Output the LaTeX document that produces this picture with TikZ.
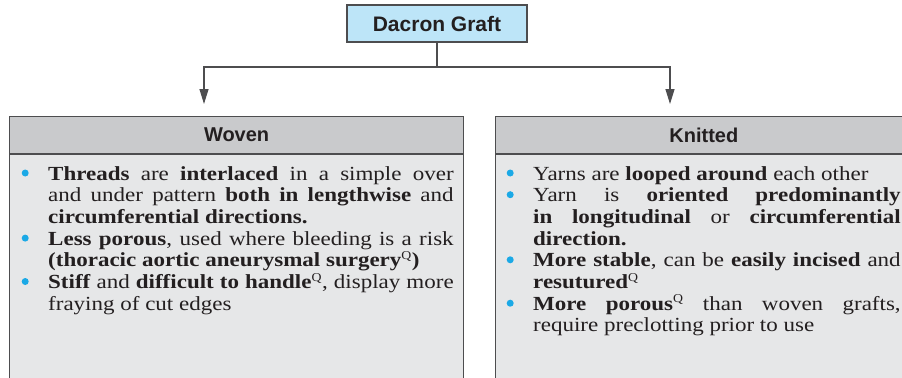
\documentclass[tikz,border=0pt]{standalone}
\usepackage{fontspec}
\setmainfont{Liberation Serif}[FakeStretch=1.15]
\newfontfamily\headfont{Liberation Sans}
\usetikzlibrary{positioning,arrows.meta}
\definecolor{graftblue}{HTML}{BDE5F8}
\definecolor{headgray}{HTML}{C9CACC}
\definecolor{bodygray}{HTML}{E6E7E8}
\definecolor{edgegray}{HTML}{4D4D4F}
\definecolor{inkblack}{HTML}{231F20}
\definecolor{bulletblue}{HTML}{1BA9E6}
\tikzstyle{frame}=[draw=edgegray,line width=1.2bp]
\tikzstyle{flow}=[-{Triangle[width=9bp,length=15bp]},line width=1.2bp,draw=edgegray]
\tikzstyle{rootbox}=[frame,fill=graftblue,minimum width=180bp,minimum height=37bp,inner sep=0,
  text=inkblack,font=\headfont\bfseries\fontsize{21bp}{25bp}\selectfont]
\tikzstyle{headbox}=[frame,fill=headgray,minimum height=37bp,inner sep=0,anchor=north west,
  text=inkblack,font=\headfont\bfseries\fontsize{20bp}{24bp}\selectfont]
\tikzstyle{bodybox}=[frame,fill=bodygray,minimum height=260bp,inner sep=0]
\tikzstyle{listtext}=[anchor=base west,inner sep=0,align=justify,text=inkblack,
  font=\fontsize{20bp}{21.7bp}\selectfont]
\newcommand{\headnode}[3][]{
  \node [headbox, #1] (#2) {#3}
}
% one bullet point: blue dot, hanging indent for the wrapped lines
% (the optional argument is left empty for the first point of a list)
\newcommand{\pointitem}[1][\par]{#1\noindent\hangindent=26.5bp\hangafter=1%
  \makebox[26.5bp][l]{\tikz[baseline=0pt]\fill[bulletblue] (3.5bp,7bp) circle (3.5bp);}}
\newcommand{\qmark}{\textsuperscript{\mdseries\fontsize{12bp}{12bp}\selectfont Q}}

\begin{document}
\begin{tikzpicture}[x=1bp,y=-1bp]
  \useasboundingbox (0,0) rectangle (902,377);
  \node [rootbox] (graft) at (437,23.5) {Dacron Graft};
  \headnode[minimum width=454bp, at={(9,116)}]{woven}{Woven};
  \headnode[minimum width=416bp, right=31bp of woven]{knitted}{Knitted};
  \node [bodybox, minimum width=454bp, below=0pt of woven] (wovenbody) {};
  \node [bodybox, minimum width=416bp, below=0pt of knitted] (knittedbody) {};

  \coordinate (fork) at (437,67);
  \coordinate (woventip) at (204,104);
  \coordinate (knittedtip) at (670,104);
  \draw[frame] (graft.south) -- (fork);
  \draw[flow] (fork) -| (woventip);
  \draw[flow] (fork) -| (knittedtip);

  \node [listtext, text width=432bp] (wovenlist) at (21.5,180) {%
    \pointitem[]\textbf{Threads} are \textbf{interlaced} in a simple over\linebreak
    and under pattern \textbf{both in lengthwise} and\linebreak
    \textbf{circumferential directions.}
    \pointitem\textbf{Less porous}, used where bleeding is a risk\linebreak
    \textbf{(thoracic aortic aneurysmal surgery\qmark)}
    \pointitem\textbf{Stiff} and \textbf{difficult to handle\qmark}, display more\linebreak
    fraying of cut edges\par};
  \node [listtext, text width=394bp] (knittedlist) at (506.5,180) {%
    \pointitem[]Yarns are \textbf{looped around} each other
    \pointitem Yarn is \textbf{oriented predominantly}\linebreak
    \textbf{in longitudinal} or \textbf{circumferential}\linebreak
    \textbf{direction.}
    \pointitem\textbf{More stable}, can be \textbf{easily incised} and\linebreak
    \textbf{resutured\qmark}
    \pointitem\textbf{More porous\qmark} than woven grafts,\linebreak
    require preclotting prior to use\par};
\end{tikzpicture}
\end{document}
